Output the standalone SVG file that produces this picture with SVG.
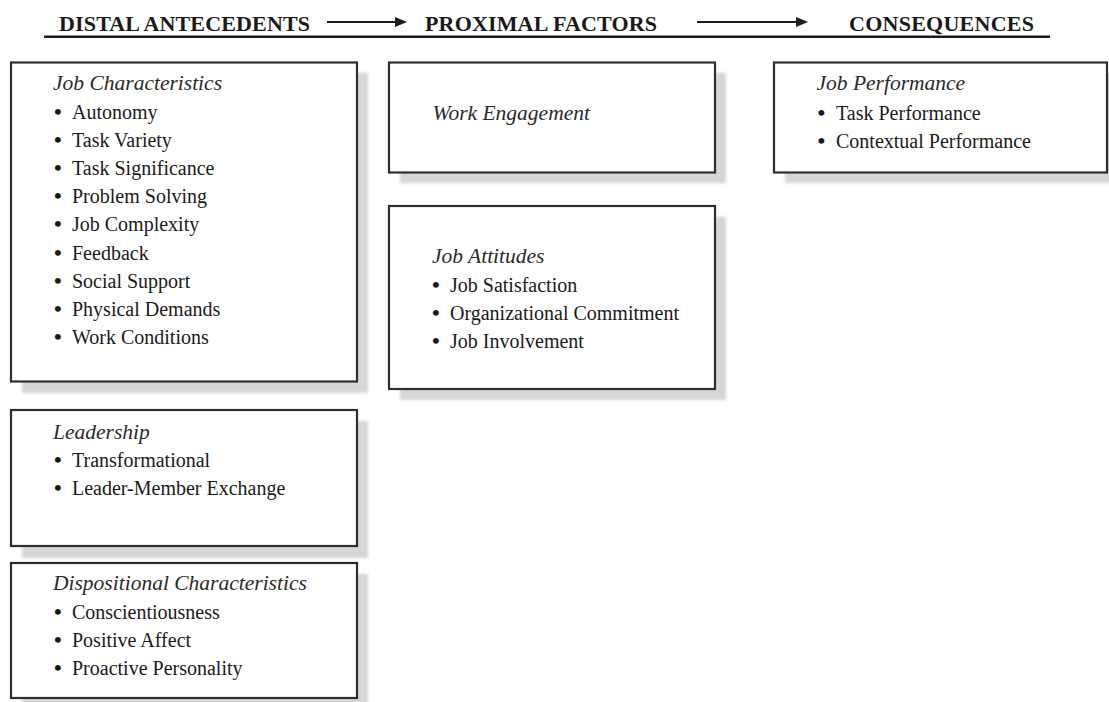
<svg xmlns="http://www.w3.org/2000/svg" width="1109" height="702" viewBox="0 0 1109 702">
<defs>
<style>
text{font-family:"Liberation Serif","Times New Roman",serif;fill:#1a1a1a}
.hd{font-size:22px;font-weight:bold}
.ti{font-size:21.5px;font-style:italic;fill:#2a2a2a}
.it{font-size:20px}
.bu{font-size:22px;font-weight:bold}
.box{fill:#fff;stroke:#2e2e2e;stroke-width:2.2}
.sh{fill:#d6d6d6;filter:url(#blur)}
.ar{stroke:#1c1c1c;stroke-width:2;fill:none}
.ah{fill:#1c1c1c}
</style>
<filter id="blur" x="-10%" y="-10%" width="120%" height="120%"><feGaussianBlur stdDeviation="1.6"/></filter>
</defs>
<rect width="1109" height="702" fill="#fff"/>
<g id="header">
<text class="hd" x="59" y="31" textLength="251">DISTAL ANTECEDENTS</text>
<text class="hd" x="425" y="31" textLength="232">PROXIMAL FACTORS</text>
<text class="hd" x="849" y="31" textLength="185">CONSEQUENCES</text>
<line x1="44" y1="36.8" x2="1050" y2="36.8" stroke="#1c1c1c" stroke-width="2.4"/>
</g>
<g id="connectors">
<line class="ar" x1="327" y1="22" x2="397" y2="22"/>
<polygon class="ah" points="395,17 407,22 395,27"/>
<line class="ar" x1="697" y1="22" x2="798" y2="22"/>
<polygon class="ah" points="796,17 808,22 796,27"/>
</g>
<g id="job-characteristics">
<rect class="sh" x="22" y="73" width="346" height="320"/>
<rect class="box" x="11" y="62.5" width="346" height="319"/>
<text class="ti" x="53" y="90">Job Characteristics</text>
<text class="bu" x="54" y="118.5">•</text><text class="it" x="72" y="118.5">Autonomy</text>
<text class="bu" x="54" y="146.7">•</text><text class="it" x="72" y="146.7">Task Variety</text>
<text class="bu" x="54" y="174.9">•</text><text class="it" x="72" y="174.9">Task Significance</text>
<text class="bu" x="54" y="203.1">•</text><text class="it" x="72" y="203.1">Problem Solving</text>
<text class="bu" x="54" y="231.3">•</text><text class="it" x="72" y="231.3">Job Complexity</text>
<text class="bu" x="54" y="259.5">•</text><text class="it" x="72" y="259.5">Feedback</text>
<text class="bu" x="54" y="287.7">•</text><text class="it" x="72" y="287.7">Social Support</text>
<text class="bu" x="54" y="315.9">•</text><text class="it" x="72" y="315.9">Physical Demands</text>
<text class="bu" x="54" y="344.1">•</text><text class="it" x="72" y="344.1">Work Conditions</text>
</g>
<g id="leadership">
<rect class="sh" x="22" y="421" width="346" height="137"/>
<rect class="box" x="11" y="410" width="346" height="136"/>
<text class="ti" x="53" y="438.5">Leadership</text>
<text class="bu" x="54" y="467">•</text><text class="it" x="72" y="467">Transformational</text>
<text class="bu" x="54" y="495">•</text><text class="it" x="72" y="495">Leader-Member Exchange</text>
</g>
<g id="dispositional-characteristics">
<rect class="sh" x="22" y="574" width="346" height="140"/>
<rect class="box" x="11" y="563" width="346" height="135"/>
<text class="ti" x="53" y="590">Dispositional Characteristics</text>
<text class="bu" x="54" y="619.3">•</text><text class="it" x="72" y="619.3">Conscientiousness</text>
<text class="bu" x="54" y="647.3">•</text><text class="it" x="72" y="647.3">Positive Affect</text>
<text class="bu" x="54" y="675.3">•</text><text class="it" x="72" y="675.3">Proactive Personality</text>
</g>
<g id="work-engagement">
<rect class="sh" x="400" y="73" width="326" height="110"/>
<rect class="box" x="389" y="62.5" width="326" height="110"/>
<text class="ti" x="432.5" y="120">Work Engagement</text>
</g>
<g id="job-attitudes">
<rect class="sh" x="400" y="217" width="326" height="183"/>
<rect class="box" x="389" y="206" width="326" height="183"/>
<text class="ti" x="432" y="263">Job Attitudes</text>
<text class="bu" x="432" y="291.7">•</text><text class="it" x="450" y="291.7">Job Satisfaction</text>
<text class="bu" x="432" y="320">•</text><text class="it" x="450" y="320">Organizational Commitment</text>
<text class="bu" x="432" y="348.3">•</text><text class="it" x="450" y="348.3">Job Involvement</text>
</g>
<g id="job-performance">
<rect class="sh" x="785" y="73" width="334" height="110"/>
<rect class="box" x="774" y="62.5" width="333" height="110"/>
<text class="ti" x="816.5" y="90">Job Performance</text>
<text class="bu" x="817.5" y="119.5">•</text><text class="it" x="836" y="119.5">Task Performance</text>
<text class="bu" x="817.5" y="147.7">•</text><text class="it" x="836" y="147.7">Contextual Performance</text>
</g>
</svg>
